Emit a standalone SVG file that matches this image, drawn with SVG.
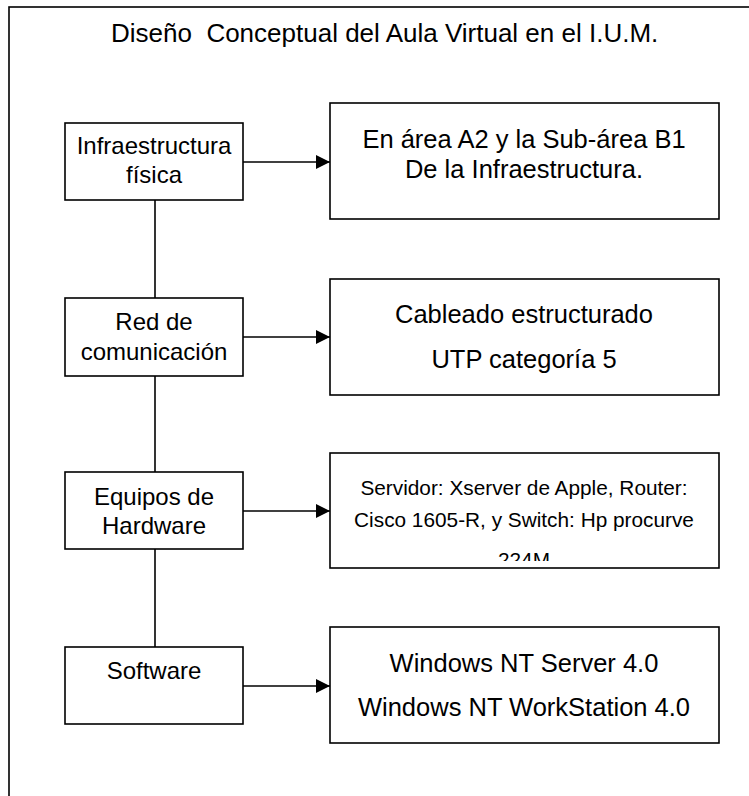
<svg xmlns="http://www.w3.org/2000/svg" width="749" height="796" viewBox="0 0 749 796">
<style>
  .box { fill: #fff; stroke: #000; stroke-width: 1.6; }
  .frame { fill: #fff; stroke: #000; stroke-width: 1.6; }
  .conn { stroke: #000; stroke-width: 1.6; fill: none; }
  text { font-family: "Liberation Sans", Arial, sans-serif; fill: #000; text-anchor: middle; }
  .title { font-size: 26px; white-space: pre; text-anchor: start; }
  .tl { font-size: 24px; }
  .tr { font-size: 25.5px; }
  .ts { font-size: 20.8px; }
</style>
<defs>
  <marker id="arrow" markerWidth="14" markerHeight="14" refX="14" refY="7" orient="auto" markerUnits="userSpaceOnUse">
    <path d="M0,0 L14,7 L0,14 Z" fill="#000"/>
  </marker>
  <clipPath id="clip3"><rect x="331" y="453" width="388" height="108"/></clipPath>
</defs>
<rect class="frame" x="9" y="7" width="760" height="800"/>
<text class="title" x="111" y="42" xml:space="preserve">Diseño  Conceptual del Aula Virtual en el I.U.M.</text>

<g id="connectors">
  <line class="conn" x1="155" y1="200" x2="155" y2="298"/>
  <line class="conn" x1="155" y1="376" x2="155" y2="472"/>
  <line class="conn" x1="155" y1="549" x2="155" y2="647"/>
  <line class="conn" x1="243" y1="162" x2="330" y2="162" marker-end="url(#arrow)"/>
  <line class="conn" x1="243" y1="337" x2="330" y2="337" marker-end="url(#arrow)"/>
  <line class="conn" x1="243" y1="511" x2="330" y2="511" marker-end="url(#arrow)"/>
  <line class="conn" x1="243" y1="686" x2="330" y2="686" marker-end="url(#arrow)"/>
</g>

<g id="infraestructura">
  <rect class="box" x="65" y="123" width="178" height="77"/>
  <text class="tl" x="154" y="154">Infraestructura</text>
  <text class="tl" x="154" y="183">física</text>
</g>
<g id="red">
  <rect class="box" x="65" y="298" width="178" height="78"/>
  <text class="tl" x="154" y="330">Red de</text>
  <text class="tl" x="154" y="360">comunicación</text>
</g>
<g id="equipos">
  <rect class="box" x="65" y="472" width="178" height="77"/>
  <text class="tl" x="154" y="505">Equipos de</text>
  <text class="tl" x="154" y="534">Hardware</text>
</g>
<g id="software">
  <rect class="box" x="65" y="647" width="178" height="77"/>
  <text class="tl" x="154" y="679">Software</text>
</g>

<g id="area">
  <rect class="box" x="330" y="103" width="389" height="116"/>
  <text class="tr" x="524" y="148">En área A2 y la Sub-área B1</text>
  <text class="tr" x="524" y="178">De la Infraestructura.</text>
</g>
<g id="cableado">
  <rect class="box" x="330" y="279" width="389" height="116"/>
  <text class="tr" x="524" y="323">Cableado estructurado</text>
  <text class="tr" x="524" y="368">UTP categoría 5</text>
</g>
<g id="hardware">
  <rect class="box" x="330" y="453" width="389" height="115"/>
  <g clip-path="url(#clip3)">
    <text class="ts" x="524" y="495">Servidor: Xserver de Apple, Router:</text>
    <text class="ts" x="524" y="527">Cisco 1605-R, y Switch: Hp procurve</text>
    <text class="ts" x="524" y="567">224M</text>
  </g>
</g>
<g id="windows">
  <rect class="box" x="330" y="627" width="389" height="116"/>
  <text class="tr" x="524" y="672">Windows NT Server 4.0</text>
  <text class="tr" x="524" y="716">Windows NT WorkStation 4.0</text>
</g>
</svg>
